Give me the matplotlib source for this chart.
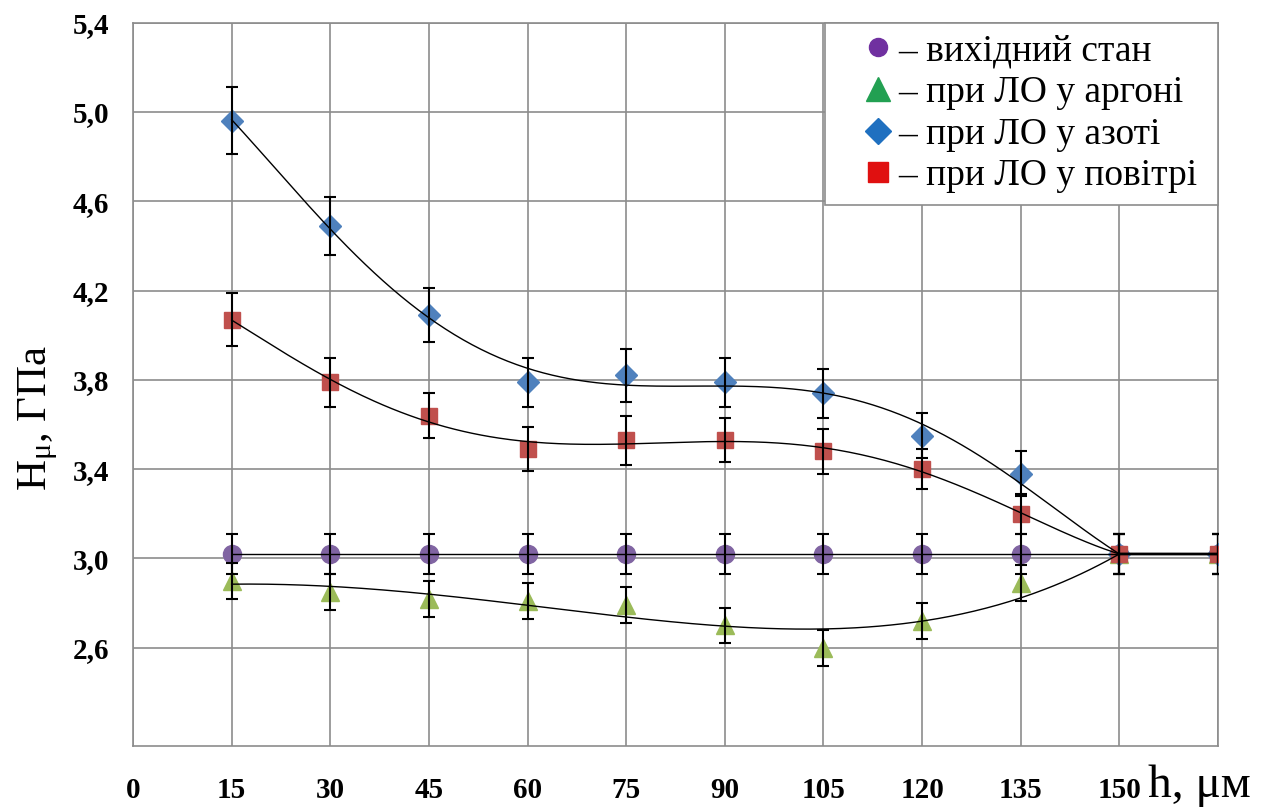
import numpy as np
import matplotlib
matplotlib.use('Agg')
import matplotlib.pyplot as plt
from matplotlib.lines import Line2D

plt.rcParams['font.family'] = ['Liberation Serif', 'DejaVu Serif']
plt.rcParams['mathtext.fontset'] = 'custom'
plt.rcParams['mathtext.rm'] = 'Liberation Serif'
plt.rcParams['mathtext.it'] = 'Liberation Serif:italic'

# depth, um
h = [15, 30, 45, 60, 75, 90, 105, 120, 135, 150, 165]

# microhardness, GPa
initial  = [3.02, 3.02, 3.02, 3.02, 3.02, 3.02, 3.02, 3.02, 3.02, 3.02, 3.02]
argon    = [2.90, 2.85, 2.82, 2.81, 2.79, 2.70, 2.60, 2.72, 2.89, 3.02, 3.02]
nitrogen = [4.96, 4.49, 4.09, 3.79, 3.82, 3.79, 3.74, 3.55, 3.38, 3.02, 3.02]
air      = [4.07, 3.79, 3.64, 3.49, 3.53, 3.53, 3.48, 3.40, 3.20, 3.02, 3.02]

err_initial  = [0.09, 0.09, 0.09, 0.09, 0.09, 0.09, 0.09, 0.09, 0.09, 0.09, 0.09]
err_argon    = [0.08, 0.08, 0.08, 0.08, 0.08, 0.08, 0.08, 0.08, 0.08, 0.09, 0.09]
err_nitrogen = [0.15, 0.13, 0.12, 0.11, 0.12, 0.11, 0.11, 0.10, 0.10, 0.09, 0.09]
err_air      = [0.12, 0.11, 0.10, 0.10, 0.11, 0.10, 0.10, 0.09, 0.09, 0.09, 0.09]

labels = ['– вихідний стан ', '– при ЛО у аргоні ', '– при ЛО у азоті ', '– при ЛО у повітрі ']

xticks = [0, 15, 30, 45, 60, 75, 90, 105, 120, 135, 150, 165]
xlabels = ['0', '15', '30', '45', '60', '75', '90', '105', '120', '135', '150', '']
yticks = [2.6, 3.0, 3.4, 3.8, 4.2, 4.6, 5.0, 5.4]
ylabels = ['2,6', '3,0', '3,4', '3,8', '4,2', '4,6', '5,0', '5,4']

fig = plt.figure(figsize=(12.69, 8.09), dpi=100)
ax = fig.add_axes([133/1269, 1-746/809, (1218-133)/1269, (746-22.7)/809])

# values, errors, marker, colour, marker size, trend degree
series = [
    (initial, err_initial, 'o', '#8064A2', 13, 1),
    (argon, err_argon, '^', '#9BBB59', 13, 4),
    (nitrogen, err_nitrogen, 'D', '#4F81BD', 11, 5),
    (air, err_air, 's', '#C0504D', 12, 5),
]

for vals, err, mk, col, ms, deg in series:
    ax.plot(h, vals, mk, color=col, ms=ms, mec=col, zorder=3)
    ax.errorbar(h, vals, yerr=err, fmt='none', ecolor='black', elinewidth=1.5,
                capsize=4.5, capthick=1.5, zorder=4)
    # smooth trend up to 150, flat tail to the last point
    w = np.ones(len(h) - 1)
    w[-1] = 10
    p = np.polyfit(h[:-1], vals[:-1], deg, w=w)
    xs = np.linspace(h[0], h[-2], 300)
    ax.plot(xs, np.polyval(p, xs), color='black', lw=1.0, zorder=5)
    ax.plot([h[-2], h[-1]], [np.polyval(p, h[-2]), vals[-1]], color='black', lw=1.6, zorder=5)

ax.set_xlim(0, 165)
ax.set_ylim(2.16, 5.4)
ax.set_xticks(xticks)
ax.set_xticklabels(xlabels)
ax.set_yticks(yticks)
ax.set_yticklabels(ylabels)
ax.tick_params(axis='x', length=0, pad=22, labelsize=21)
ax.tick_params(axis='y', length=0, pad=17, labelsize=21)
for t in ax.get_xticklabels() + ax.get_yticklabels():
    t.set_fontweight('bold')
ax.grid(True, color='#8c8c8c', lw=1.2)
ax.set_axisbelow(True)
for s in ax.spines.values():
    s.set_color('#8c8c8c')
    s.set_linewidth(1.2)

handles = [
    Line2D([], [], ls='none', marker='o', color='#7030A0', ms=13),
    Line2D([], [], ls='none', marker='^', color='#22A052', ms=17),
    Line2D([], [], ls='none', marker='D', color='#1F70C0', ms=13),
    Line2D([], [], ls='none', marker='s', color='#E01010', ms=15),
]
leg = ax.legend(handles, labels, loc='upper right', bbox_to_anchor=(1, 1),
                borderaxespad=0, fancybox=False, framealpha=1, edgecolor='#8c8c8c',
                handlelength=2.2, handletextpad=-0.55, labelspacing=0.19, borderpad=0.3,
                prop={'size': 27})
leg.get_frame().set_linewidth(1.2)
leg.set_zorder(10)

fig.text(1148/1269, 1-797/809, 'h, μм', ha='left', va='baseline', size=34)
fig.text(38/1269, 1-418/809, r'H$_{\mathrm{μ}}$, ГПа', rotation=90,
         ha='center', va='center', size=31)

fig.savefig('out.png', dpi=100)
